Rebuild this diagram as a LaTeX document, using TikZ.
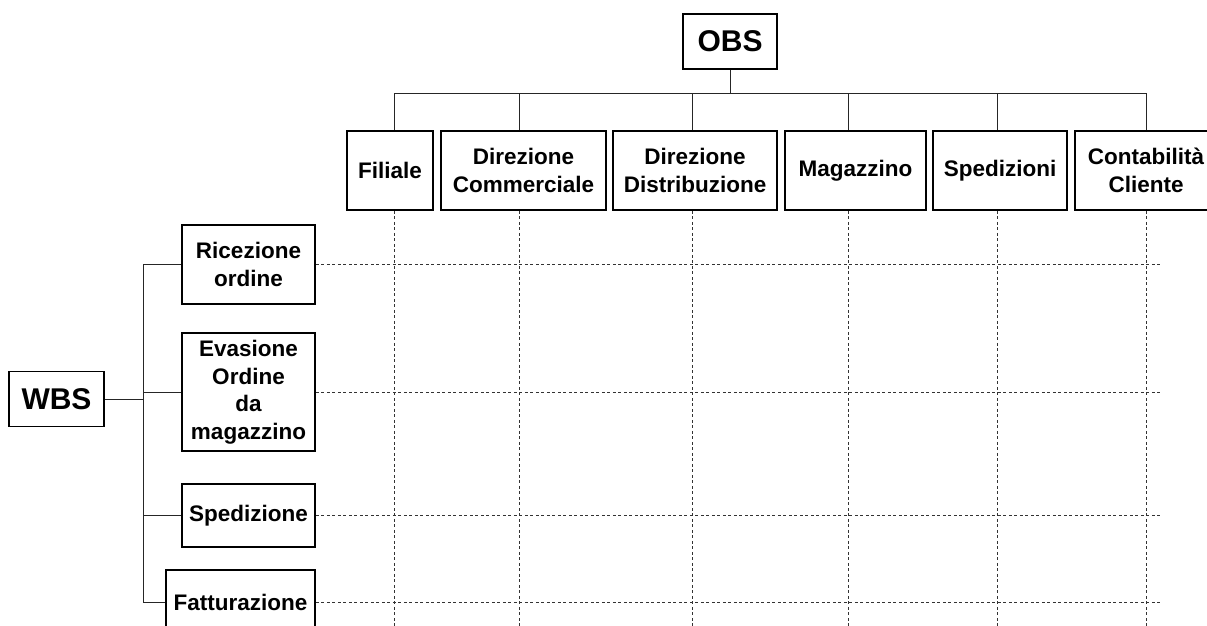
\documentclass[tikz,border=0pt]{standalone}
\usepackage{fontspec}
\setmainfont{Liberation Sans}
\begin{document}
\begin{tikzpicture}[x=1pt,y=-1pt,
  box/.style={draw=black, line width=1.8pt, rectangle, inner sep=0pt, align=center,
    font=\bfseries\fontsize{22.5}{27.5}\selectfont},
  big/.style={box, font=\bfseries\fontsize{30}{34}\selectfont},
  conn/.style={line width=1pt, draw=black!85},
  grid/.style={line width=1pt, draw=black!80, dash pattern=on 3pt off 2.5pt}]
\useasboundingbox (0,0) rectangle (1207,626);
% OBS side
\node[big, minimum width=94, minimum height=55] (obs) at (730,41.5) {OBS};
\node[box, minimum width=86, minimum height=79] (fil) at (390,170.5) {Filiale};
\node[box, minimum width=165, minimum height=79] (dcom) at (523.5,170.5) {Direzione\\Commerciale};
\node[box, minimum width=164, minimum height=79] (ddis) at (695,170.5) {Direzione\\Distribuzione};
\node[box, minimum width=141, minimum height=79] (mag) at (855.5,170.5) {Magazzino};
\node[box, minimum width=134, minimum height=79] (spz) at (1000,170.5) {Spedizioni};
\node[box, minimum width=142, minimum height=79] (cont) at (1146,170.5) {Contabilità\\Cliente};
% WBS side
\node[big, minimum width=95, minimum height=55] (wbs) at (56.5,399) {WBS};
\node[box, minimum width=133, minimum height=79] (ric) at (248.5,264.5) {Ricezione\\ordine};
\node[box, minimum width=133, minimum height=118] (eva) at (248.5,392) {Evasione\\Ordine\\da\\magazzino};
\node[box, minimum width=133, minimum height=63] (spe) at (248.5,515.5) {Spedizione};
\node[box, minimum width=149, minimum height=64] (fat) at (240.5,602) {Fatturazione};
% coordinates
\coordinate (bar) at (731,93);
\coordinate (c1) at (394,93);
\coordinate (c2) at (519,93);
\coordinate (c3) at (692,93);
\coordinate (c4) at (848,93);
\coordinate (c5) at (997,93);
\coordinate (c6) at (1146,93);
\coordinate (sp) at (143,0);
\coordinate (bot) at (0,626);
\coordinate (rgt) at (1162,0);
% OBS connectors
\draw[conn] (obs.south) -- (obs.south |- bar);
\draw[conn] (c1) -- (c6);
\draw[conn] (c1) -- (c1 |- fil.north);
\draw[conn] (c2) -- (c2 |- dcom.north);
\draw[conn] (c3) -- (c3 |- ddis.north);
\draw[conn] (c4) -- (c4 |- mag.north);
\draw[conn] (c5) -- (c5 |- spz.north);
\draw[conn] (c6) -- (c6 |- cont.north);
% WBS connectors
\draw[conn] (wbs.east) -- (wbs.east -| sp);
\draw[conn] (ric.west -| sp) -- (fat.west -| sp);
\draw[conn] (ric.west) -- (ric.west -| sp);
\draw[conn] (eva.west) -- (eva.west -| sp);
\draw[conn] (spe.west) -- (spe.west -| sp);
\draw[conn] (fat.west) -- (fat.west -| sp);
% grid
\draw[grid] (c1 |- fil.south) -- (c1 |- bot);
\draw[grid] (c2 |- dcom.south) -- (c2 |- bot);
\draw[grid] (c3 |- ddis.south) -- (c3 |- bot);
\draw[grid] (c4 |- mag.south) -- (c4 |- bot);
\draw[grid] (c5 |- spz.south) -- (c5 |- bot);
\draw[grid] (c6 |- cont.south) -- (c6 |- bot);
\draw[grid] (ric.east) -- (ric.east -| rgt);
\draw[grid] (eva.east) -- (eva.east -| rgt);
\draw[grid] (spe.east) -- (spe.east -| rgt);
\draw[grid] (fat.east) -- (fat.east -| rgt);
\end{tikzpicture}
\end{document}
